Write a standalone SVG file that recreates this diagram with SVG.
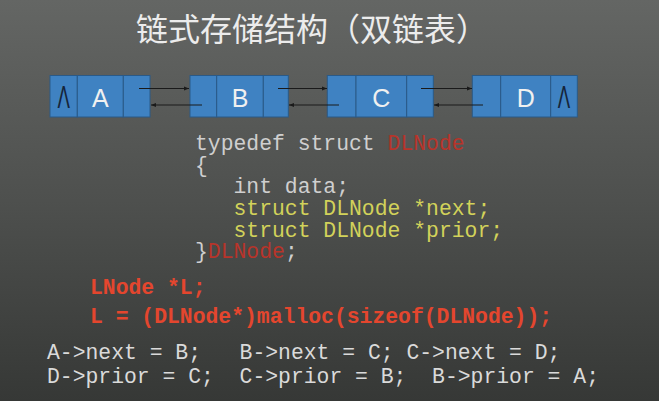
<svg xmlns="http://www.w3.org/2000/svg" width="659" height="401" viewBox="0 0 659 401">
<defs>
<linearGradient id="bg" x1="0" y1="0" x2="0" y2="1">
<stop offset="0" stop-color="#646664"/>
<stop offset="0.5" stop-color="#4e504e"/>
<stop offset="1" stop-color="#363836"/>
</linearGradient>
<marker id="ah" viewBox="0 0 10 10" refX="10" refY="5" markerWidth="5" markerHeight="5" orient="auto" markerUnits="userSpaceOnUse">
<path d="M0,1 L10,5 L0,9 z" fill="#1a1a1a"/>
</marker>
</defs>
<style>
.cell{fill:#3f82c2;stroke:#2a5a88;stroke-width:1}
.lbl{font-family:"Liberation Sans",Arial,sans-serif;font-size:25px;fill:#f0f0f0;text-anchor:middle}
.nil{font-family:"Liberation Sans",Arial,sans-serif;font-size:31px;fill:#15253a;text-anchor:middle}
.arr{stroke:#1a1a1a;stroke-width:1;fill:none;marker-end:url(#ah)}
.code{font-family:"Liberation Mono","Courier New",monospace;font-size:21.4px;white-space:pre}
.g{fill:#cfcfcf}
.y{fill:#d2d25a}
.r{fill:#b8342a}
.rb{fill:#e4462e;font-weight:bold}
.w{fill:#dadada}
</style>
<rect width="659" height="401" fill="url(#bg)"/>
<text x="136" y="41" font-family="'Noto Sans CJK SC','Noto Sans',sans-serif" font-size="32" fill="#ececec">链式存储结构（双链表）</text>

<g id="nodeA">
<rect class="cell" x="50" y="75.5" width="27.3" height="41.5"/>
<rect class="cell" x="77.3" y="75.5" width="46" height="41.5"/>
<rect class="cell" x="123.3" y="75.5" width="26.7" height="41.5"/>
<text class="nil" transform="translate(63.7,108) scale(0.6,1)">Λ</text>
<text class="lbl" x="100.3" y="107">A</text>
</g>
<g id="nodeB">
<rect class="cell" x="190" y="75.5" width="26.7" height="41.5"/>
<rect class="cell" x="216.7" y="75.5" width="46.6" height="41.5"/>
<rect class="cell" x="263.3" y="75.5" width="25" height="41.5"/>
<text class="lbl" x="240" y="107">B</text>
</g>
<g id="nodeC">
<rect class="cell" x="327.3" y="75.5" width="28.7" height="41.5"/>
<rect class="cell" x="356" y="75.5" width="50.7" height="41.5"/>
<rect class="cell" x="406.7" y="75.5" width="26.6" height="41.5"/>
<text class="lbl" x="381.3" y="107">C</text>
</g>
<g id="nodeD">
<rect class="cell" x="472.3" y="75.5" width="28.4" height="41.5"/>
<rect class="cell" x="500.7" y="75.5" width="50" height="41.5"/>
<rect class="cell" x="550.7" y="75.5" width="26.6" height="41.5"/>
<text class="lbl" x="525.7" y="107">D</text>
<text class="nil" transform="translate(564,108) scale(0.6,1)">Λ</text>
</g>

<g id="connectors">
<line class="arr" x1="139" y1="88.5" x2="189" y2="88.5"/>
<line class="arr" x1="202" y1="105" x2="151" y2="105"/>
<line class="arr" x1="278" y1="88.5" x2="327" y2="88.5"/>
<line class="arr" x1="339" y1="105" x2="289" y2="105"/>
<line class="arr" x1="421" y1="88.5" x2="472" y2="88.5"/>
<line class="arr" x1="483" y1="105" x2="434" y2="105"/>
</g>

<g id="code">
<text class="code" x="195" y="150"><tspan class="g">typedef struct </tspan><tspan class="r">DLNode</tspan></text>
<text class="code g" x="195" y="171.7">{</text>
<text class="code g" x="195" y="193.3">   int data;</text>
<text class="code y" x="195" y="215">   struct DLNode *next;</text>
<text class="code y" x="195" y="236.7">   struct DLNode *prior;</text>
<text class="code" x="195" y="258.3"><tspan class="g">}</tspan><tspan class="r">DLNode</tspan><tspan class="g">;</tspan></text>
<text class="code rb" x="90" y="294">LNode *L;</text>
<text class="code rb" x="90" y="323.3">L = (DLNode*)malloc(sizeof(DLNode));</text>
<text class="code w" x="47" y="359.3">A-&gt;next = B;   B-&gt;next = C; C-&gt;next = D;</text>
<text class="code w" x="47" y="382.7">D-&gt;prior = C;  C-&gt;prior = B;  B-&gt;prior = A;</text>
</g>
</svg>
